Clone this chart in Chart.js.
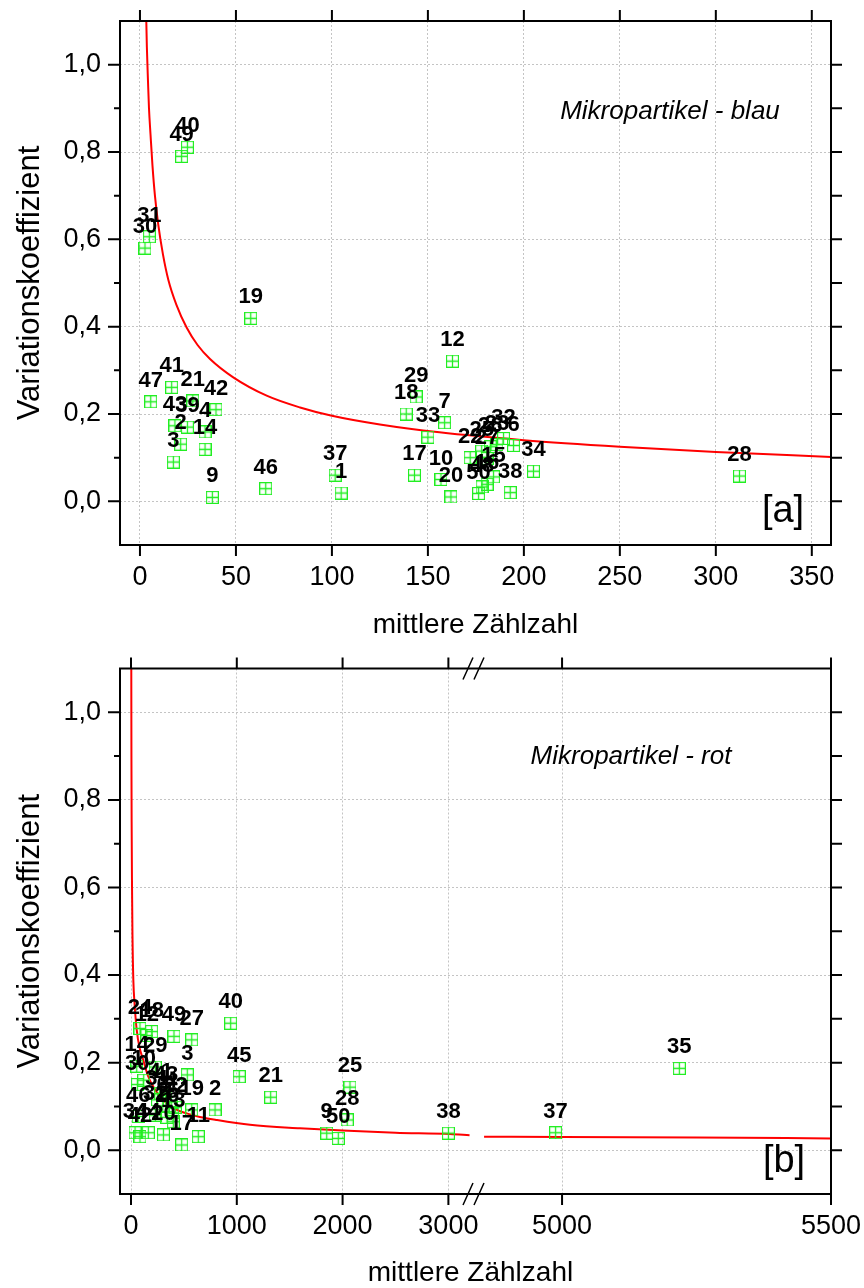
<!DOCTYPE html>
<html><head><meta charset="utf-8">
<script src="https://cdn.jsdelivr.net/npm/chart.js@4.4.0/dist/chart.umd.min.js"></script>
<style>
html,body{margin:0;padding:0;background:#fff;}
#wrap{position:relative;width:864px;height:1288px;background:#fff;}
canvas{position:absolute;left:0;}
</style></head><body>
<div id="wrap">
<canvas id="ca" width="864" height="645" style="top:0"></canvas>
<canvas id="cb" width="864" height="643" style="top:645px"></canvas>
</div>
<script>
// ---------- tick labels ----------
const yTicks = [0, 0.2, 0.4, 0.6, 0.8, 1.0];
const yMinorTicks = [0.1, 0.3, 0.5, 0.7, 0.9];
const xTicksA = [0, 50, 100, 150, 200, 250, 300, 350];
const xTicksB1 = [0, 1000, 2000, 3000];
const xTicksB2 = [5000, 5500];

// ---------- panel [a]: Mikropartikel - blau ----------
const idsA = [40, 49, 31, 30, 19, 47, 41, 21, 43, 39, 42, 4, 14, 2, 3, 9, 46, 37, 1, 12, 29, 18, 33, 7, 17, 10, 20, 34, 38, 28,
              22, 25, 26, 23, 32, 6, 27, 15, 16, 48, 50];
const xA = [24.7, 21.7, 4.9, 2.6, 57.7, 5.6, 16.5, 27.5, 18.2, 24.7, 39.6, 33.9, 33.9, 21.2, 17.4, 37.7, 65.5, 101.7, 104.8, 162.8, 143.9, 138.7, 150, 158.7, 143, 156.8, 162, 205, 192.9, 312.3,
            172, 178, 182.5, 186, 189.4, 194.6, 180.8, 184.2, 180.8, 178.2, 176.4];
const yA = [0.811, 0.79, 0.606, 0.58, 0.419, 0.228, 0.261, 0.23, 0.173, 0.17, 0.21, 0.159, 0.119, 0.131, 0.09, 0.009, 0.029, 0.06, 0.019, 0.321, 0.239, 0.2, 0.147, 0.18, 0.06, 0.05, 0.01, 0.069, 0.02, 0.058,
            0.10, 0.115, 0.125, 0.13, 0.144, 0.128, 0.098, 0.056, 0.039, 0.033, 0.018];
const curveAx = [3.3, 3.6, 4.2, 4.7, 5.5, 6.5, 7.8, 9.5, 12, 14.8, 19, 24.3, 30, 36.5, 48.6, 66, 83.4, 100, 125, 156, 200, 250, 300, 360];
const curveAy = [1.1, 1.04, 0.96, 0.9, 0.84, 0.77, 0.7, 0.635, 0.565, 0.507, 0.45, 0.398, 0.358, 0.326, 0.284, 0.242, 0.215, 0.196, 0.176, 0.158, 0.14, 0.125, 0.113, 0.1016];

// ---------- panel [b]: Mikropartikel - rot ----------
const idsB = [24, 12, 18, 49, 27, 40, 14, 29, 10, 30, 3, 45, 21, 41, 43, 31, 4, 6, 22, 46, 19, 2, 32, 16, 5, 34, 42, 44, 20, 11, 17, 13, 25, 28, 9, 50, 38];
const xB = [85, 150, 195, 406, 574, 942, 54, 230, 120, 60, 532, 1023, 1320, 280, 330, 250, 380, 300, 420, 69, 574, 794, 230, 340, 395, 38, 85, 164, 306, 636, 479, 400, 2070, 2044, 1850, 1959, 3000];
const yB = [0.278, 0.262, 0.271, 0.26, 0.252, 0.29, 0.192, 0.19, 0.16, 0.15, 0.172, 0.168, 0.121, 0.13, 0.125, 0.115, 0.11, 0.1, 0.098, 0.077, 0.092, 0.092, 0.08, 0.075, 0.085, 0.04, 0.031, 0.04, 0.035, 0.031, 0.012, 0.065, 0.144, 0.069, 0.039, 0.027, 0.039];
const idsB2 = [37, 35];
const xB2 = [4988, 5218];
const yB2 = [0.04, 0.187];
const curveB1x = [2.7, 4, 6, 9, 14, 22, 35, 54, 80, 116, 160, 211, 270, 337, 420, 526, 650, 810, 1125, 1597, 2000, 2500, 3015, 3200];
const curveB1y = [1.1, 0.9, 0.75, 0.62, 0.49, 0.389, 0.33, 0.275, 0.235, 0.206, 0.17, 0.145, 0.124, 0.107, 0.094, 0.084, 0.076, 0.069, 0.058, 0.05, 0.045, 0.04, 0.037, 0.034];
const curveB2x = [4855, 5000, 5250, 5500];
const curveB2y = [0.031, 0.030, 0.029, 0.027];

// ---------- helpers ----------
const FONT = "'Liberation Sans', Arial, sans-serif";
const zip = (xs, ys) => xs.map((x, i) => ({x, y: ys[i]}));
const fmtY = v => Number(v).toFixed(1).replace('.', ',');

function mkMarker() {
  const c = document.createElement('canvas');
  c.width = 13; c.height = 13;
  const g = c.getContext('2d');
  g.strokeStyle = '#22ee22'; g.lineWidth = 1.3;
  g.strokeRect(0.5, 0.5, 12, 12);
  g.beginPath();
  g.moveTo(6.5, 0.5); g.lineTo(6.5, 12.5);
  g.moveTo(0.5, 6.5); g.lineTo(12.5, 6.5);
  g.stroke();
  return c;
}
const marker = mkMarker();

const labelPlugin = {
  id: 'ptlabels',
  afterDatasetsDraw(chart) {
    const ctx = chart.ctx;
    ctx.save();
    ctx.font = 'bold 22px ' + FONT;
    ctx.fillStyle = '#000';
    ctx.textAlign = 'center';
    ctx.textBaseline = 'middle';
    chart.data.datasets.forEach((ds, i) => {
      if (!ds.ptLabels) return;
      chart.getDatasetMeta(i).data.forEach((el, j) => {
        ctx.fillText(String(ds.ptLabels[j]), el.x, el.y - 21);
      });
    });
    ctx.restore();
  }
};

function framePlugin(cfg) {
  return {
    id: 'frame',
    afterDraw(chart) {
      const {ctx, chartArea: a} = chart;
      const ys = chart.scales.y;
      ctx.save();
      ctx.strokeStyle = '#000';
      ctx.lineWidth = 2;
      ctx.strokeRect(a.left, a.top, a.right - a.left, a.bottom - a.top);
      ctx.beginPath();
      const seg = (x1, y1, x2, y2) => { ctx.moveTo(x1, y1); ctx.lineTo(x2, y2); };
      yTicks.forEach(v => { const p = ys.getPixelForValue(v); seg(a.left - 12, p, a.left, p); seg(a.right, p, a.right + 11, p); });
      yMinorTicks.forEach(v => { const p = ys.getPixelForValue(v); seg(a.left - 6, p, a.left, p); seg(a.right, p, a.right + 11, p); });
      cfg.xticks.forEach(([id, vals]) => {
        const s = chart.scales[id];
        vals.forEach(v => { const p = s.getPixelForValue(v); seg(p, a.top - 11, p, a.top); seg(p, a.bottom, p, a.bottom + 11); });
      });
      ctx.stroke();
      if (cfg.breakAfter) {
        const bx = chart.scales[cfg.breakAfter].right;
        ctx.lineWidth = 1.5;
        ctx.beginPath();
        [a.top, a.bottom].forEach(yy => {
          seg(bx - 13, yy + 11, bx - 3, yy - 11);
          seg(bx - 2, yy + 11, bx + 8, yy - 11);
        });
        ctx.stroke();
      }
      ctx.fillStyle = '#000';
      ctx.textAlign = 'center';
      ctx.textBaseline = 'middle';
      ctx.font = 'italic 26px ' + FONT;
      ctx.fillText(cfg.note, cfg.noteX, cfg.noteY);
      ctx.font = '38px ' + FONT;
      ctx.fillText(cfg.tag, cfg.tagX, cfg.tagY);
      if (cfg.xTitle) {
        ctx.font = '28px ' + FONT;
        ctx.fillText(cfg.xTitle, (a.left + a.right) / 2 - 5, cfg.xTitleY);
      }
      ctx.restore();
    }
  };
}

const setTicks = arr => s => { s.ticks = arr.map(v => ({value: v})); };
const tickFont = {family: FONT, size: 27};
const gridCfg = {color: '#c4c4c4', lineWidth: 1, drawTicks: false};
const borderCfg = {display: false, dash: [2, 2]};
const fitX = h => s => { s.height = h; s.paddingLeft = 0; s.paddingRight = 0; };

function yScale() {
  return {
    type: 'linear', min: -0.1, max: 1.1,
    afterBuildTicks: setTicks(yTicks),
    afterFit: s => { s.width = 110; s.paddingTop = 0; s.paddingBottom = 0; },
    grid: gridCfg, border: borderCfg,
    ticks: {color: '#000', font: tickFont, padding: 19, callback: fmtY},
    title: {display: true, text: 'Variationskoeffizient', color: '#000', font: {family: FONT, size: 31}, padding: {top: 2, bottom: 0}}
  };
}

// ---------- chart [a] ----------
new Chart(document.getElementById('ca'), {
  type: 'scatter',
  data: {
    datasets: [
      {data: zip(xA, yA), ptLabels: idsA, pointStyle: marker, pointRadius: 6, showLine: false},
      {data: zip(curveAx, curveAy), showLine: true, pointRadius: 0, borderColor: '#ff0000', borderWidth: 2, cubicInterpolationMode: 'monotone'}
    ]
  },
  options: {
    responsive: false, animation: false,
    layout: {padding: {top: 21, right: 33, left: 10, bottom: 0}},
    plugins: {legend: {display: false}, tooltip: {enabled: false}},
    scales: {
      x: {
        type: 'linear', min: -10.4, max: 360,
        afterBuildTicks: setTicks(xTicksA),
        afterFit: fitX(100),
        grid: gridCfg, border: borderCfg,
        ticks: {color: '#000', font: tickFont, padding: 16, autoSkip: false, maxRotation: 0, callback: v => String(v)},
        title: {display: true, text: 'mittlere Zählzahl', color: '#000', font: {family: FONT, size: 28}, padding: {top: 0, bottom: 3}}
      },
      y: yScale()
    }
  },
  plugins: [labelPlugin, framePlugin({xticks: [['x', xTicksA]], note: 'Mikropartikel - blau', noteX: 670, noteY: 112, tag: '[a]', tagX: 783, tagY: 512})]
});

// ---------- chart [b] ----------
new Chart(document.getElementById('cb'), {
  type: 'scatter',
  data: {
    datasets: [
      {data: zip(xB, yB), ptLabels: idsB, xAxisID: 'x1', pointStyle: marker, pointRadius: 6, showLine: false},
      {data: zip(xB2, yB2), ptLabels: idsB2, xAxisID: 'x2', pointStyle: marker, pointRadius: 6, showLine: false},
      {data: zip(curveB1x, curveB1y), xAxisID: 'x1', showLine: true, pointRadius: 0, borderColor: '#ff0000', borderWidth: 2, cubicInterpolationMode: 'monotone'},
      {data: zip(curveB2x, curveB2y), xAxisID: 'x2', showLine: true, pointRadius: 0, borderColor: '#ff0000', borderWidth: 2, cubicInterpolationMode: 'monotone'}
    ]
  },
  options: {
    responsive: false, animation: false,
    layout: {padding: {top: 23.5, right: 33, left: 10, bottom: 0}},
    plugins: {legend: {display: false}, tooltip: {enabled: false}},
    scales: {
      x1: {
        type: 'linear', position: 'bottom', stack: 'xb', stackWeight: 356, min: -104, max: 3261,
        afterBuildTicks: setTicks(xTicksB1),
        afterFit: fitX(94),
        grid: gridCfg, border: borderCfg,
        ticks: {color: '#000', font: tickFont, padding: 16, autoSkip: false, maxRotation: 0, callback: v => String(v)}
      },
      x2: {
        type: 'linear', position: 'bottom', stack: 'xb', stackWeight: 355, min: 4840, max: 5500,
        afterBuildTicks: setTicks(xTicksB2),
        afterFit: fitX(94),
        grid: gridCfg, border: borderCfg,
        ticks: {color: '#000', font: tickFont, padding: 16, autoSkip: false, maxRotation: 0, callback: v => String(v)}
      },
      y: yScale()
    }
  },
  plugins: [labelPlugin, framePlugin({xticks: [['x1', xTicksB1], ['x2', xTicksB2]], breakAfter: 'x1', note: 'Mikropartikel - rot', noteX: 631, noteY: 112, tag: '[b]', tagX: 784, tagY: 517, xTitle: 'mittlere Zählzahl', xTitleY: 628})]
});
</script>
</body></html>
